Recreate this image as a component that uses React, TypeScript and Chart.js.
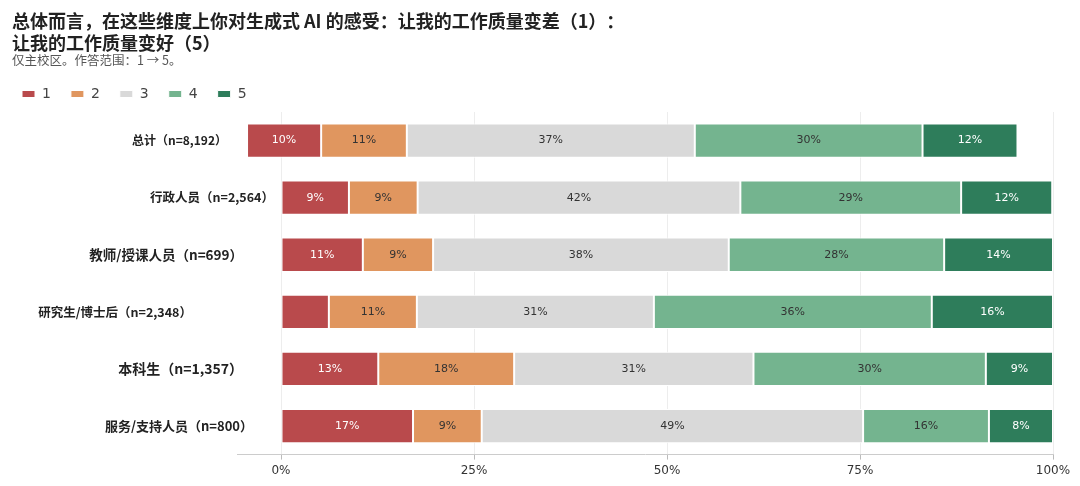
import { useEffect, useRef } from "react";
import { Chart, Plugin, registerables } from "chart.js";
Chart.register(...registerables);

const categories = [
  "总计（n=8,192）",
  "行政人员（n=2,564）",
  "教师/授课人员（n=699）",
  "研究生/博士后（n=2,348）",
  "本科生（n=1,357）",
  "服务/支持人员（n=800）",
];
const levels = ["1", "2", "3", "4", "5"];
// where each row's bar begins (percent)
const rowStart = [-4.4, 0, 0, 0, 0, 0];
const score1 = [9.6, 8.8, 10.6, 6.2, 12.6, 17.1];
const score2 = [11.1, 8.9, 9.1, 11.4, 17.6, 8.9];
const score3 = [37.3, 41.8, 38.3, 30.7, 31.0, 49.4];
const score4 = [29.5, 28.6, 27.9, 36.0, 30.1, 16.3];
const score5 = [12.3, 11.8, 14.1, 15.7, 8.7, 8.3];
const xTicks = [0, 25, 50, 75, 100];

const series = [score1, score2, score3, score4, score5];
const colors = ["#b94a4c", "#e0965f", "#d9d9d9", "#74b48f", "#2e7d5b"];
const textColors = ["#ffffff", "#333333", "#333333", "#333333", "#ffffff"];
// row label styling
const labelSizes = [12, 12.5, 13.5, 12.5, 14, 13];
const labelRight = [227, 274, 243, 192, 243, 253];

const barLabels: Plugin = {
  id: "barLabels",
  afterDatasetsDraw(chart) {
    const ctx = chart.ctx;
    chart.data.datasets.forEach((_, d) => {
      const meta = chart.getDatasetMeta(d);
      meta.data.forEach((el: any, i) => {
        const v = series[d][i];
        if (v < 7) return;
        const { x, y } = el.getCenterPoint();
        ctx.save();
        ctx.font = "11px 'DejaVu Sans', sans-serif";
        ctx.fillStyle = textColors[d];
        ctx.textAlign = "center";
        ctx.textBaseline = "middle";
        ctx.fillText(Math.round(v) + "%", x, y);
        ctx.restore();
      });
    });
  },
};

const rowLabels: Plugin = {
  id: "rowLabels",
  afterDraw(chart) {
    const ctx = chart.ctx;
    const yScale = chart.scales.y;
    categories.forEach((c, i) => {
      ctx.save();
      ctx.font = `600 ${labelSizes[i]}px 'Noto Sans CJK SC', sans-serif`;
      ctx.fillStyle = "#222";
      ctx.textAlign = "right";
      ctx.textBaseline = "middle";
      ctx.fillText(c, labelRight[i], yScale.getPixelForValue(i));
      ctx.restore();
    });
  },
};

const legendGap: Plugin = {
  id: "legendGap",
  beforeInit(chart) {
    const lg: any = chart.legend;
    if (!lg) return;
    const fit = lg.fit;
    lg.fit = function () {
      fit.call(this);
      this.height += 1;
    };
  },
};

export default function App() {
  const ref = useRef<HTMLCanvasElement>(null);

  useEffect(() => {
    document.body.style.margin = "0";
    const datasets = levels.map((lv, d) => ({
      label: lv,
      data: categories.map((_, i) => {
        let s = rowStart[i];
        for (let k = 0; k < d; k++) s += series[k][i];
        return [s, s + series[d][i]];
      }),
      backgroundColor: colors[d],
      borderColor: "#ffffff",
      borderWidth: 1,
      borderSkipped: false,
      grouped: false,
      barPercentage: 0.6,
      categoryPercentage: 1,
    }));

    const chart = new Chart(ref.current!, {
      type: "bar",
      data: { labels: categories, datasets: datasets as any },
      options: {
        indexAxis: "y",
        animation: false,
        responsive: true,
        maintainAspectRatio: false,
        font: { family: "'DejaVu Sans', 'Noto Sans CJK SC', sans-serif" },
        layout: { padding: { top: 67, left: 2, right: 27, bottom: 4 } },
        plugins: {
          title: { display: false },
          tooltip: { enabled: false },
          legend: {
            position: "top",
            align: "start",
            labels: {
              boxWidth: 13,
              boxHeight: 7,
              padding: 20,
              color: "#444",
              font: { size: 14, family: "'DejaVu Sans', sans-serif" },
            },
          },
        },
        scales: {
          x: {
            type: "linear",
            min: -5.7,
            max: 100,
            afterBuildTicks: (scale) => {
              scale.ticks = xTicks.map((v) => ({ value: v }));
            },
            ticks: {
              callback: (v) => v + "%",
              color: "#333",
              padding: 4,
              font: { size: 12, family: "'DejaVu Sans', sans-serif" },
            },
            grid: { color: "#ededed", tickColor: "#bbbbbb", tickLength: 5 },
            border: { color: "#cccccc" },
          },
          y: {
            type: "category",
            ticks: { display: false },
            grid: { display: false },
            border: { display: false },
            afterFit: (scale) => {
              scale.width = 235;
            },
          },
        },
      },
      plugins: [barLabels, rowLabels, legendGap],
    });
    return () => {
      chart.destroy();
    };
  }, []);

  return (
    <div style={{ position: "relative", width: 1080, height: 486 }}>
      <canvas ref={ref}></canvas>
      <div
        style={{
          position: "absolute",
          left: 12,
          top: 9,
          fontFamily: "'Noto Sans CJK SC', sans-serif",
          color: "#222",
          textSpacingTrim: "space-all",
        } as any}
      >
        <div style={{ fontSize: 18, fontWeight: 700, lineHeight: "22px" }}>
          总体而言，在这些维度上你对生成式 AI 的感受：让我的工作质量变差（1）：
          <br />
          让我的工作质量变好（5）
        </div>
        <div
          style={{ fontSize: 12.5, lineHeight: "13px", marginTop: 0, color: "#555" }}
        >
          仅主校区。作答范围：1 → 5。
        </div>
      </div>
    </div>
  );
}
